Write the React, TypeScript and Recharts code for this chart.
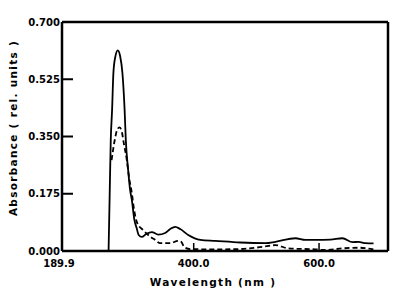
import React from 'react';
import { LineChart, Line, XAxis, YAxis, ReferenceLine } from 'recharts';

// wavelength (nm) / absorbance pairs
const solidWavelength = [264.2, 265.8, 267.7, 269.8, 271.9, 274.6, 278.9, 282.6, 286.3, 289.8, 291.7, 295.4, 298.6, 301.3, 305.4, 309.0, 312.2, 317.3, 324.1, 333.3, 343.3, 354.5, 362.5, 370.5, 378.5, 391.3, 410.5, 434.4, 474.4, 514.3, 530.3, 562.3, 578.3, 594.3, 618.2, 637.4, 653.4, 663.0, 674.1, 686.9];
const solidAbs = [0, 0.156, 0.339, 0.431, 0.544, 0.59, 0.613, 0.596, 0.544, 0.431, 0.339, 0.248, 0.186, 0.156, 0.095, 0.07, 0.049, 0.043, 0.052, 0.058, 0.05, 0.055, 0.067, 0.074, 0.067, 0.049, 0.034, 0.031, 0.026, 0.024, 0.028, 0.039, 0.034, 0.034, 0.035, 0.039, 0.027, 0.028, 0.024, 0.023];

const dashedWavelength = [269.0, 271.4, 274.6, 277.8, 281.5, 285.0, 289.0, 293.3, 297.0, 301.3, 305.0, 309.8, 319.4, 330.5, 338.5, 346.5, 362.5, 375.3, 380.1, 384.9, 394.5, 426.4, 474.4, 514.3, 530.3, 551.0, 594.3, 610.2, 637.4, 663.0, 686.9];
const dashedAbs = [0.278, 0.309, 0.345, 0.37, 0.378, 0.367, 0.324, 0.278, 0.223, 0.177, 0.125, 0.086, 0.064, 0.044, 0.034, 0.024, 0.024, 0.031, 0.028, 0.012, 0.006, 0.005, 0.006, 0.014, 0.018, 0.008, 0.005, 0.003, 0.008, 0.01, 0.005];

const xTicks = [189.9, 400, 600];
const yTicks = [0, 0.175, 0.35, 0.525, 0.7];
const X_MIN = 189.9;
const X_MAX = 710;

const solidData = solidWavelength.map((w, i) => ({ w, a: solidAbs[i] }));
const dashedData = dashedWavelength.map((w, i) => ({ w, a: dashedAbs[i] }));

const font = { fontFamily: 'DejaVu Sans, sans-serif', fontWeight: 700, fill: '#000' };

const YTick = (props: any) => {
  const { x, y, payload } = props;
  const v = payload.value as number;
  return (
    <g>
      <text x={x} y={y} dy={3.5} textAnchor="end" fontSize={10} style={font}>
        {v.toFixed(3)}
      </text>
      {v > 0 && v < 0.7 && <line x1={x + 2} x2={x + 13} y1={y} y2={y} stroke="#000" strokeWidth={2} />}
    </g>
  );
};

const XTick = (props: any) => {
  const { x, y, payload } = props;
  const v = payload.value as number;
  return (
    <g>
      <text x={v === X_MIN ? x - 3 : x} y={y} dy={14} textAnchor="middle" fontSize={10} style={font}>
        {v.toFixed(1)}
      </text>
      {v > X_MIN && <line x1={x} x2={x} y1={y - 2} y2={y - 10} stroke="#000" strokeWidth={1.5} />}
    </g>
  );
};

export default function App() {
  return (
    <div style={{ position: 'absolute', left: 0, top: 0, width: 402, height: 295, background: '#fff' }}>
      <LineChart width={402} height={295} margin={{ top: 22, right: 14, bottom: 0, left: 0 }}>
        <XAxis
          dataKey="w"
          type="number"
          domain={[X_MIN, X_MAX]}
          ticks={xTicks}
          allowDataOverflow
          height={44}
          tickSize={0}
          tickMargin={2}
          tick={<XTick />}
          axisLine={{ stroke: '#000', strokeWidth: 2.5 }}
          label={{
            content: () => (
              <text x={213} y={286} textAnchor="middle" fontSize={10.5} letterSpacing={1.3} style={font}>
                Wavelength (nm )
              </text>
            ),
          }}
        />
        <YAxis
          dataKey="a"
          type="number"
          domain={[0, 0.7]}
          ticks={yTicks}
          width={62}
          tickSize={0}
          tickMargin={2}
          tick={<YTick />}
          axisLine={{ stroke: '#000', strokeWidth: 2.5 }}
          label={{
            content: () => (
              <text x={17} y={128} transform="rotate(-90 17 128)" textAnchor="middle" fontSize={10.5} letterSpacing={1.3} style={font}>
                Absorbance ( rel. units )
              </text>
            ),
          }}
        />
        <ReferenceLine y={0.7} stroke="#000" strokeWidth={2.5} />
        <ReferenceLine x={X_MAX} stroke="#000" strokeWidth={2.5} />
        <Line data={solidData} dataKey="a" type="monotone" stroke="#000" strokeWidth={1.8} dot={false} isAnimationActive={false} />
        <Line data={dashedData} dataKey="a" type="monotone" stroke="#000" strokeWidth={1.8} strokeDasharray="5 3" dot={false} isAnimationActive={false} />
      </LineChart>
    </div>
  );
}
